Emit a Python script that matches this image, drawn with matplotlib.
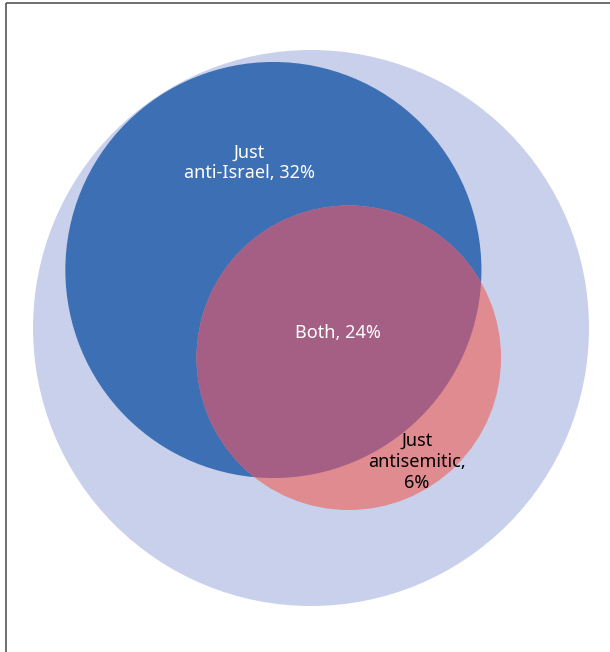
import numpy as np
import matplotlib
matplotlib.use("Agg")
import matplotlib.pyplot as plt
from matplotlib.patches import Circle

# ---- data (shares of the whole population, %) ----
categories = ["Just anti-Israel", "Both", "Just antisemitic"]
shares = [32, 24, 6]
total = 100
labels = ["Just\nanti-Israel, 32%", "Both, 24%", "Just\nantisemitic,\n6%"]

# ---- layout (pixels) ----
W, H = 610, 652
R = 278.0                      # radius of the "total" circle
outer_c = np.array([311.0, 328.0])
blue_c = np.array([273.4, 270.0])
direction = np.array([75.6, 88.0]); direction /= np.linalg.norm(direction)

col_outer = "#C8D0EB"
col_blue = "#3D6FB5"
col_pink = "#E08B8F"
col_both = "#A55F84"

# radii from areas
r_blue = R * np.sqrt((shares[0] + shares[1]) / total)
r_pink = R * np.sqrt((shares[1] + shares[2]) / total)
overlap_area = np.pi * R**2 * shares[1] / total

def lens_area(d, r1, r2):
    if d >= r1 + r2:
        return 0.0
    if d <= abs(r1 - r2):
        return np.pi * min(r1, r2) ** 2
    a1 = r1**2 * np.arccos((d**2 + r1**2 - r2**2) / (2 * d * r1))
    a2 = r2**2 * np.arccos((d**2 + r2**2 - r1**2) / (2 * d * r2))
    a3 = 0.5 * np.sqrt((-d + r1 + r2) * (d + r1 - r2) * (d - r1 + r2) * (d + r1 + r2))
    return a1 + a2 - a3

lo, hi = abs(r_blue - r_pink), r_blue + r_pink
for _ in range(100):
    mid = 0.5 * (lo + hi)
    if lens_area(mid, r_blue, r_pink) > overlap_area:
        lo = mid
    else:
        hi = mid
d = 0.5 * (lo + hi)
pink_c = blue_c + d * direction

fig = plt.figure(figsize=(W / 100, H / 100), dpi=100)
ax = fig.add_axes([0, 0, 1, 1])
ax.set_xlim(0, W)
ax.set_ylim(H, 0)
ax.set_aspect("equal")
ax.axis("off")

ax.add_patch(Circle(outer_c, R, facecolor=col_outer, edgecolor="none"))
blue = Circle(blue_c, r_blue, facecolor=col_blue, edgecolor="none")
ax.add_patch(blue)
ax.add_patch(Circle(pink_c, r_pink, facecolor=col_pink, edgecolor="none"))
both = Circle(pink_c, r_pink, facecolor=col_both, edgecolor="none")
ax.add_patch(both)
both.set_clip_path(Circle(blue_c, r_blue, transform=ax.transData))

font = dict(family=["Noto Sans", "DejaVu Sans"], fontsize=13, ha="center",
            va="center", linespacing=1.2)
ax.text(249, 163, labels[0], color="white", **font)
ax.text(338, 333, labels[1], color="white", **font)
ax.text(417, 462, labels[2], color="black", **font)

# frame lines (top and left)
ax.plot([6, W], [3, 3], color="#555555", lw=1.2, solid_capstyle="butt")
ax.plot([6, 6], [3, H], color="#555555", lw=1.2, solid_capstyle="butt")

fig.savefig("out.png", dpi=100)
